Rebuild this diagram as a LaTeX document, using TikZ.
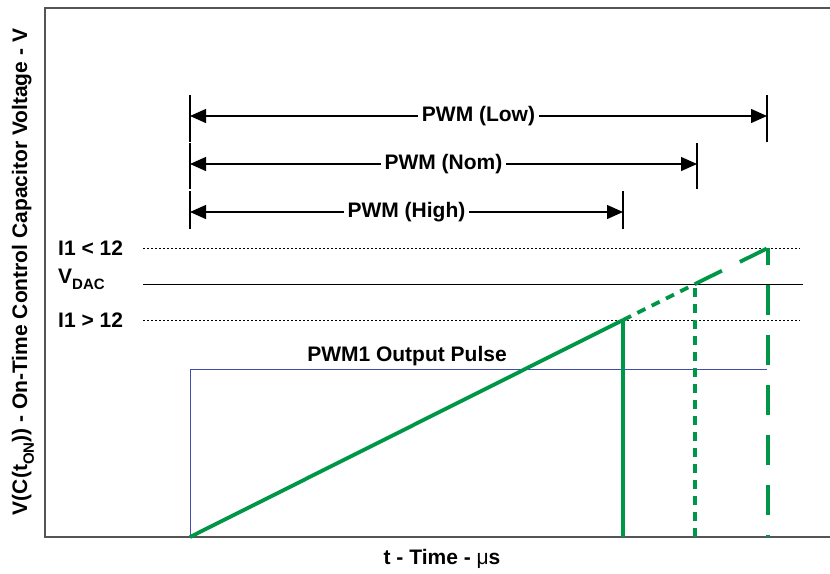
\documentclass[tikz,border=0pt]{standalone}
\usepackage{fontspec}
\setmainfont{Liberation Sans}
\usetikzlibrary{arrows.meta, positioning, calc}

\definecolor{rampgreen}{RGB}{0,150,72}
\definecolor{pulseblue}{RGB}{64,76,176}
\definecolor{axisgray}{RGB}{85,85,85}
\newcommand{\lowsub}[1]{\raisebox{-0.32em}{\fontsize{15}{17}\selectfont #1}}

\begin{document}
\begin{tikzpicture}[x=1pt, y=-1pt,
    lbl/.style={font=\fontsize{21}{24}\selectfont\bfseries, inner sep=0pt},
    axis/.style={draw=axisgray, line width=1.6pt},
    dim/.style={{Triangle[length=16pt, width=14pt]}-{Triangle[length=16pt, width=14pt]}, line width=1.3pt},
    bar/.style={line width=1.8pt},
    refdot/.style={line width=0.9pt, dash pattern=on 2pt off 2pt},
    refline/.style={line width=0.9pt},
    ramp/.style={rampgreen, line width=3.8pt},
    rampdot/.style={ramp, dash pattern=on 9pt off 7pt},
    rampdash/.style={ramp, dash pattern=on 30pt off 20pt},
    pulse/.style={pulseblue, line width=1pt}]

\useasboundingbox (0,0) rectangle (830,573);

% Axes (open on the right)
\coordinate (tr) at (830,8);
\coordinate (tl) at (45,8);
\coordinate (bl) at (45,537);
\coordinate (br) at (830,537);
\draw[axis] (tr) -- (tl) -- (bl) -- (br);

% Axis labels
\node[lbl, rotate=90] (ylab) at (23,272) {V(C(t\lowsub{ON})) - On-Time Control Capacitor Voltage - V};
\node[lbl] (xlab) at (442,559) {t - Time - {\mdseries μ}s};

% Ramp end points
\coordinate (o) at (190,537);
\coordinate (hi) at (623,320);
\coordinate (nom) at (695,284);
\coordinate (lo) at (768,248);

% Threshold labels and reference lines
\node[lbl, anchor=west] (l-lo) at (58,248) {I1 < 12};
\node[lbl, anchor=base west] (l-dac) at (58,283) {V\lowsub{DAC}};
\node[lbl, anchor=west] (l-hi) at (58,320) {I1 > 12};
\coordinate (lo-w) at (143,248);
\coordinate (lo-e) at (800,248);
\coordinate (dac-w) at (143,284);
\coordinate (dac-e) at (803,284);
\coordinate (hi-w) at (143,320);
\coordinate (hi-e) at (800,320);
\draw[refdot] (lo-w) -- (lo-e);
\draw[refline] (dac-w) -- (dac-e);
\draw[refdot] (hi-w) -- (hi-e);

% PWM1 output pulse
\coordinate (pulse-end) at (767,369);
\draw[pulse] (o) |- (pulse-end);
\node[lbl] (pulse-lbl) at (407,356) {PWM1 Output Pulse};

% Ramp and turn-off edges
\draw[ramp] (o) -- (hi);
\draw[rampdot] (hi) -- (nom);
\draw[rampdash] (nom) -- (lo);
\draw[ramp] (hi) -- (hi |- o);
\draw[rampdot] (nom |- o) -- (nom);
\draw[rampdash, dash phase=28pt] (lo |- o) -- (lo);

% Pulse width dimensions
\coordinate (lowL) at (190,116);
\coordinate (lowR) at (767,116);
\coordinate (nomL) at (190,164);
\coordinate (nomR) at (697,164);
\coordinate (highL) at (190,212);
\coordinate (highR) at (623,212);
\draw[bar] ($(lowL)+(0,-21)$) -- ($(lowL)+(0,26)$);
\draw[bar] ($(lowR)+(0,-21)$) -- ($(lowR)+(0,26)$);
\draw[bar] ($(nomL)+(0,-21)$) -- ($(nomL)+(0,25)$);
\draw[bar] ($(nomR)+(0,-21)$) -- ($(nomR)+(0,25)$);
\draw[bar] ($(highL)+(0,-21)$) -- ($(highL)+(0,17)$);
\draw[bar] ($(highR)+(0,-21)$) -- ($(highR)+(0,17)$);
\draw[dim] (lowL) -- node[lbl, fill=white, inner xsep=4pt, inner ysep=2pt] (pwm-low) {PWM (Low)} (lowR);
\draw[dim] (nomL) -- node[lbl, fill=white, inner xsep=4pt, inner ysep=2pt] (pwm-nom) {PWM (Nom)} (nomR);
\draw[dim] (highL) -- node[lbl, fill=white, inner xsep=4pt, inner ysep=2pt] (pwm-high) {PWM (High)} (highR);

\end{tikzpicture}
\end{document}
